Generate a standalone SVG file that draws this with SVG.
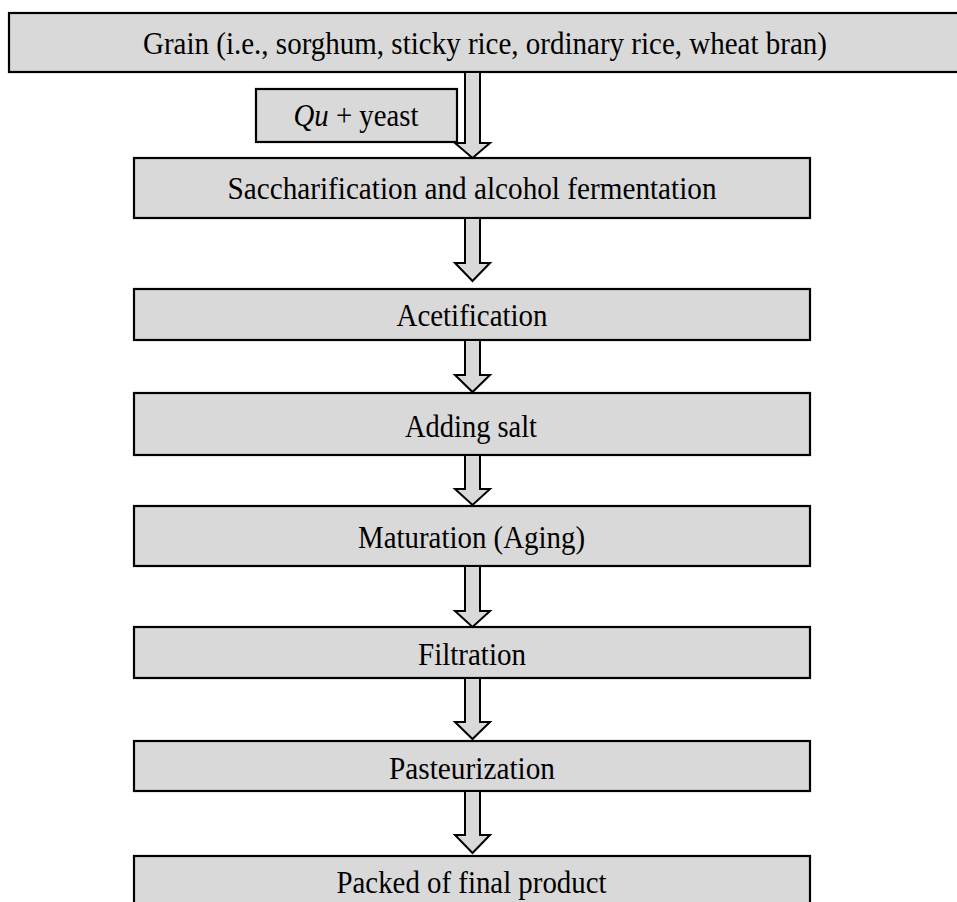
<svg xmlns="http://www.w3.org/2000/svg" width="957" height="902" viewBox="0 0 957 902">
<style>
.box{fill:#d9d9d9;stroke:#000;stroke-width:2.2}
.arr{fill:#d9d9d9;stroke:#000;stroke-width:2;stroke-linejoin:miter}
text{font-family:"Liberation Serif","Times New Roman",serif;font-size:31px;fill:#000;text-anchor:middle}
</style>
<rect width="957" height="902" fill="#fff"/>
<g id="grain"><rect class="box" x="9" y="13" width="960" height="59"/><text x="485" y="54" textLength="684" lengthAdjust="spacingAndGlyphs">Grain (i.e., sorghum, sticky rice, ordinary rice, wheat bran)</text></g>
<g id="qu"><rect class="box" x="256" y="89" width="201" height="53"/><text x="356" y="126" textLength="125" lengthAdjust="spacingAndGlyphs"><tspan font-style="italic">Qu</tspan> + yeast</text></g>
<g id="sacch"><rect class="box" x="134" y="158" width="676" height="60"/><text x="472" y="199" textLength="489" lengthAdjust="spacingAndGlyphs">Saccharification and alcohol fermentation</text></g>
<g id="acet"><rect class="box" x="134" y="289" width="676" height="51"/><text x="472" y="326" textLength="151" lengthAdjust="spacingAndGlyphs">Acetification</text></g>
<g id="salt"><rect class="box" x="134" y="393" width="676" height="62"/><text x="471" y="437" textLength="132" lengthAdjust="spacingAndGlyphs">Adding salt</text></g>
<g id="mat"><rect class="box" x="134" y="506" width="676" height="60"/><text x="471.5" y="548" textLength="227" lengthAdjust="spacingAndGlyphs">Maturation (Aging)</text></g>
<g id="filt"><rect class="box" x="134" y="627" width="676" height="51"/><text x="472" y="665" textLength="108" lengthAdjust="spacingAndGlyphs">Filtration</text></g>
<g id="past"><rect class="box" x="134" y="741" width="676" height="50"/><text x="472" y="779" textLength="166" lengthAdjust="spacingAndGlyphs">Pasteurization</text></g>
<g id="pack"><rect class="box" x="134" y="856" width="676" height="60"/><text x="471.5" y="893" textLength="270" lengthAdjust="spacingAndGlyphs">Packed of final product</text></g>
<g id="connectors">
<path class="arr" d="M465,72 V143 H455 L472.5,158 L490,143 H480 V72 Z"/>
<path class="arr" d="M465,218 V263 H455 L472.5,281 L490,263 H480 V218 Z"/>
<path class="arr" d="M465,340 V375 H455 L472.5,392 L490,375 H480 V340 Z"/>
<path class="arr" d="M465,455 V489 H455 L472.5,505 L490,489 H480 V455 Z"/>
<path class="arr" d="M465,566 V611 H455 L472.5,627 L490,611 H480 V566 Z"/>
<path class="arr" d="M465,678 V722 H455 L472.5,739 L490,722 H480 V678 Z"/>
<path class="arr" d="M465,791 V835 H455 L472.5,853 L490,835 H480 V791 Z"/>
</g>
</svg>
